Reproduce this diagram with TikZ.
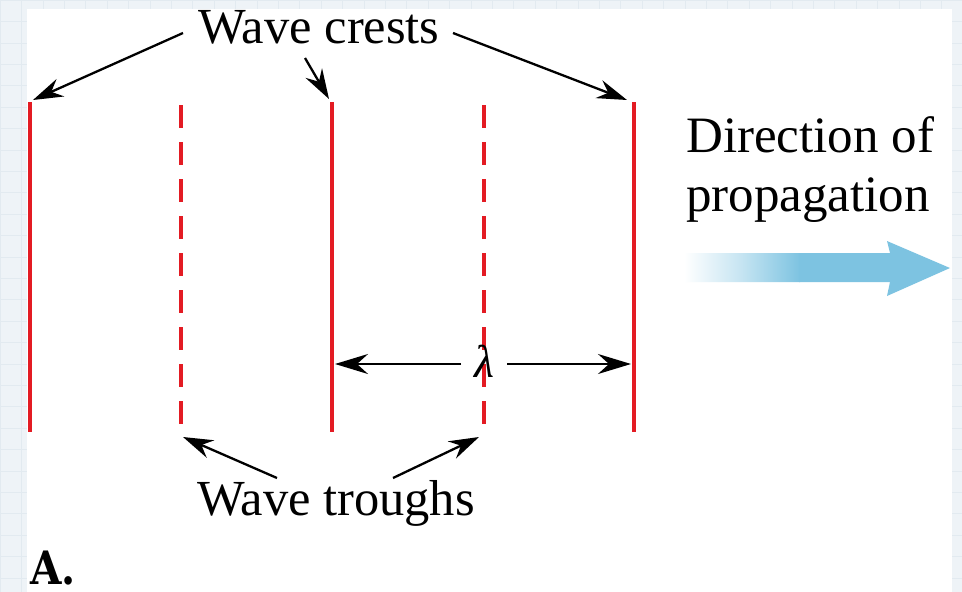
\documentclass[tikz,border=0pt]{standalone}
\usepackage{fontspec}
\setmainfont{Liberation Serif}
\newfontfamily\labelfont{DejaVu Serif}
\usetikzlibrary{arrows.meta}
\definecolor{wavered}{HTML}{E31B23}
\definecolor{propblue}{HTML}{7DC3E1}
\definecolor{gridbg}{HTML}{EEF3F7}
\definecolor{gridln}{HTML}{E2EAF0}
\tikzset{
  crest/.style={wavered, line width=3.6pt},
  trough/.style={wavered, line width=3.6pt, dash pattern=on 23pt off 14pt},
  pointer/.style={black, line width=2.3pt, -{Stealth[length=30pt,width=19pt,inset=10pt]}},
  dimarrow/.style={black, line width=2.3pt, -{Stealth[length=33pt,width=20pt,inset=11pt]}},
  caption/.style={font=\fontsize{50.5}{54}\selectfont, inner sep=0pt},
}
\begin{document}
\begin{tikzpicture}[x=1pt,y=-1pt]
\useasboundingbox (0,0) rectangle (962,592);
% background grid paper
\fill[gridbg] (0,0) rectangle (962,592);
\draw[gridln, line width=0.6pt, step=21.4pt] (0,0) grid (962,592);
\fill[white] (27,9) rectangle (952,592);
% wave fronts
\coordinate (c1t) at (30,102); \coordinate (c1b) at (30,432);
\coordinate (t1t) at (181,105); \coordinate (t1b) at (181,432);
\coordinate (c2t) at (332,102); \coordinate (c2b) at (332,432);
\coordinate (t2t) at (484,105); \coordinate (t2b) at (484,432);
\coordinate (c3t) at (634,102); \coordinate (c3b) at (634,432);
\draw[crest] (c1t) -- (c1b);
\draw[crest] (c2t) -- (c2b);
\draw[crest] (c3t) -- (c3b);
\draw[trough] (t1t) -- (t1b);
\draw[trough] (t2t) -- (t2b);
% labels
\node[caption] (crests) at (319,27) {Wave crests};
\node[caption] (troughs) at (336,503) {Wave troughs};
\node[caption, align=left, anchor=north west, font=\fontsize{51}{59}\selectfont] (dir) at (686,116) {Direction of\\propagation};
\node[inner sep=0pt, font=\labelfont\bfseries\fontsize{46}{46}\selectfont, xscale=0.88, anchor=base west] (lblA) at (30,584) {A.};
% crest pointers
\coordinate (p1s) at (183,33); \coordinate (p1e) at (33,100);
\coordinate (p2s) at (305,58); \coordinate (p2e) at (329,99);
\coordinate (p3s) at (453,33); \coordinate (p3e) at (627,100);
\draw[pointer] (p1s) -- (p1e);
\draw[pointer] (p2s) -- (p2e);
\draw[pointer] (p3s) -- (p3e);
% trough pointers
\coordinate (q1s) at (277,478); \coordinate (q1e) at (183,437);
\coordinate (q2s) at (393,478); \coordinate (q2e) at (479,437);
\draw[pointer] (q1s) -- (q1e);
\draw[pointer] (q2s) -- (q2e);
% wavelength
\node[font=\fontsize{46}{46}\selectfont\itshape, inner sep=0pt] (lam) at (484,361) {λ};
\coordinate (lamL) at (335,364); \coordinate (lamR) at (631,364);
\coordinate (lamLs) at (461,364); \coordinate (lamRs) at (507,364);
\draw[dimarrow] (lamLs) -- (lamL);
\draw[dimarrow] (lamRs) -- (lamR);
% propagation arrow
\begin{scope}
\clip (685,253) -- (890,253) -- (887,241) -- (950,268) -- (887,296) -- (890,282) -- (685,282) -- cycle;
\shade[left color=white, right color=propblue, middle color=propblue!45] (684,235) rectangle (800,300);
\fill[propblue] (799,235) rectangle (952,300);
\end{scope}
\end{tikzpicture}
\end{document}
